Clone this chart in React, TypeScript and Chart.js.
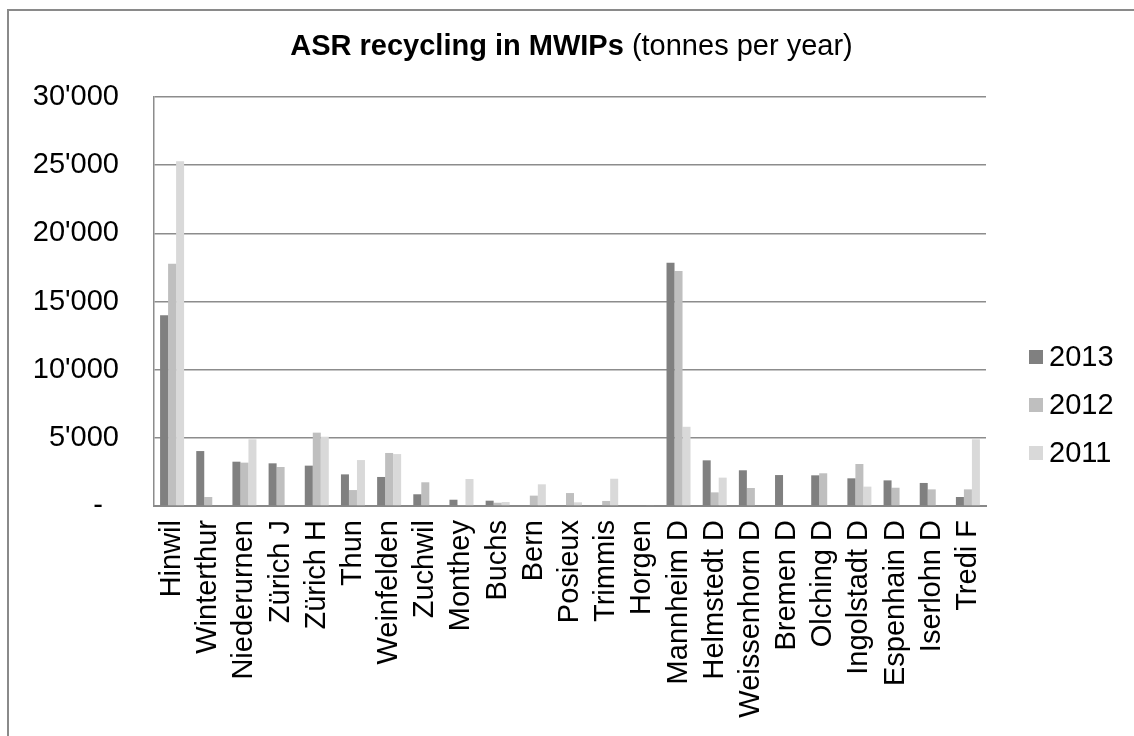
import React, { useEffect, useRef } from "react";
import { Chart, registerables } from "chart.js";

Chart.register(...registerables);

const categories = [
  "Hinwil", "Winterthur", "Niederurnen", "Zürich J", "Zürich H", "Thun", "Weinfelden", "Zuchwil",
  "Monthey", "Buchs", "Bern", "Posieux", "Trimmis", "Horgen", "Mannheim D", "Helmstedt D",
  "Weissenhorn D", "Bremen D", "Olching D", "Ingolstadt D", "Espenhain D", "Iserlohn D", "Tredi F",
];

const values2013 = [14000, 4030, 3250, 3130, 2960, 2320, 2130, 860, 460, 390, null, null, null, null, 17840, 3350, 2620, 2270, 2250, 2030, 1880, 1690, 660];
const values2012 = [17760, 660, 3180, 2860, 5380, 1170, 3890, 1740, 70, 240, 760, 950, 370, null, 17230, 1000, 1320, null, 2400, 3080, 1340, 1220, 1220];
const values2011 = [25290, null, 4890, null, 5080, 3370, 3810, null, 1980, 290, 1590, 270, 2000, 60, 5810, 2080, null, null, null, 1420, null, null, 4890];

const seriesNames = ["2013", "2012", "2011"];
const seriesColors = ["#808080", "#bfbfbf", "#d9d9d9"];

const titleBold = "ASR recycling in MWIPs";
const titleRegular = " (tonnes per year)";

const FONT = "'Liberation Sans', Arial, sans-serif";
const FS = 29;

function fmt(v: number): string {
  if (v === 0) return "-  ";
  return String(v).replace(/\B(?=(\d{3})+(?!\d))/g, "'");
}

const titlePlugin = {
  id: "mixedTitle",
  afterDraw(chart: any) {
    const ctx = chart.ctx;
    ctx.save();
    ctx.fillStyle = "#000";
    ctx.textBaseline = "middle";
    ctx.textAlign = "left";
    ctx.font = `bold ${FS}px ${FONT}`;
    const wb = ctx.measureText(titleBold).width;
    ctx.font = `${FS}px ${FONT}`;
    const wr = ctx.measureText(titleRegular).width;
    const x0 = chart.width / 2 - (wb + wr) / 2;
    const y = chart.chartArea.top - 50;
    ctx.font = `bold ${FS}px ${FONT}`;
    ctx.fillText(titleBold, x0, y);
    ctx.font = `${FS}px ${FONT}`;
    ctx.fillText(titleRegular, x0 + wb, y);
    ctx.restore();
  },
};

const legendPlugin = {
  id: "sideLegend",
  afterDraw(chart: any) {
    const ctx = chart.ctx;
    const area = chart.chartArea;
    ctx.save();
    ctx.font = `${FS}px ${FONT}`;
    ctx.textBaseline = "middle";
    ctx.textAlign = "left";
    const box = 14;
    const x = area.right + 43;
    chart.data.datasets.forEach((ds: any, i: number) => {
      const cy = area.top + 260 + i * 48;
      ctx.fillStyle = ds.backgroundColor;
      ctx.fillRect(x, cy - box / 2, box, box);
      ctx.fillStyle = "#000";
      ctx.fillText(ds.label, x + box + 6, cy + 1);
    });
    ctx.restore();
  },
};

export default function App() {
  const ref = useRef<HTMLCanvasElement | null>(null);

  useEffect(() => {
    if (!ref.current) return;
    const chart = new Chart(ref.current, {
      type: "bar",
      data: {
        labels: categories,
        datasets: [values2013, values2012, values2011].map((vals, i) => ({
          label: seriesNames[i],
          data: vals,
          backgroundColor: seriesColors[i],
          borderWidth: 0,
          barPercentage: 1,
          categoryPercentage: 0.664,
        })),
      },
      options: {
        animation: false,
        responsive: false,
        devicePixelRatio: 1,
        layout: { padding: { top: 86, right: 148, left: 0, bottom: 0 } },
        plugins: {
          legend: { display: false },
          title: { display: false },
          tooltip: { enabled: false },
        },
        scales: {
          x: {
            grid: { display: false, drawTicks: false },
            border: { display: true, color: "#888888", width: 2 },
            ticks: {
              autoSkip: false,
              minRotation: 90,
              maxRotation: 90,
              padding: 14,
              color: "#000",
              font: { family: FONT, size: FS },
            },
            afterFit: (axis: any) => {
              axis.height = 230;
            },
          },
          y: {
            min: 0,
            max: 30000,
            grid: { color: "#8c8c8c", lineWidth: 1.5, drawTicks: false },
            border: { display: true, color: "#8c8c8c", width: 1.5 },
            ticks: {
              stepSize: 5000,
              padding: 35,
              color: "#000",
              font: { family: FONT, size: FS },
              callback: (v: any) => fmt(Number(v)),
            },
            afterFit: (axis: any) => {
              axis.width = 145;
            },
          },
        },
      },
      plugins: [titlePlugin, legendPlugin],
    });
    return () => chart.destroy();
  }, []);

  return (
    <div
      style={{
        position: "fixed",
        left: 7,
        top: 9,
        width: 1140,
        height: 740,
        border: "2px solid #8a8a8a",
        background: "#fff",
        overflow: "hidden",
      }}
    >
      <canvas ref={ref} width={1125} height={725} style={{ display: "block", width: 1125, height: 725 }} />
    </div>
  );
}
